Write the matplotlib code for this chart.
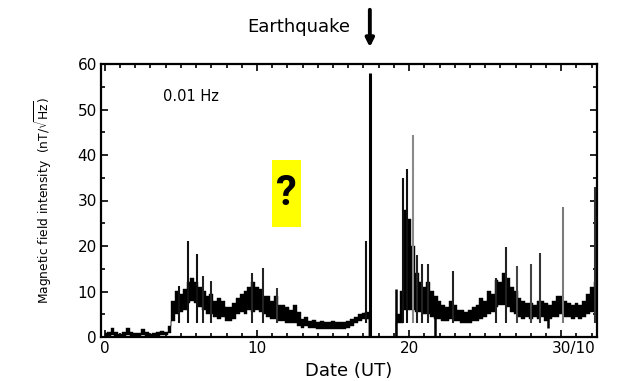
import numpy as np
import matplotlib
matplotlib.use("Agg")
import matplotlib.pyplot as plt
from matplotlib.patches import Rectangle
from matplotlib.transforms import ScaledTranslation

plt.rcParams['font.family'] = ['DejaVu Sans']

# ---- data ----
t_start, t_step = 0.0, 0.25
band_low = [0.2, 0.3, 0.4, 0.3, 0.2, 0.3, 0.5, 0.3, 0.2, 0.3, 0.4, 0.3, 0.2, 0.2, 0.3, 0.4,   # 0-3.75
            0.4, 0.8, 3.5, 5.0, 5.5, 6.0, 7.5, 8.0, 7.5, 6.5, 6.0, 5.0, 5.0, 4.5, 4.0, 4.5,   # 4-7.75
            3.5, 3.5, 4.0, 5.0, 5.5, 5.0, 6.0, 5.5, 6.0, 5.5, 5.0, 4.5, 4.0, 4.0, 3.5, 3.5,   # 8-11.75
            3.0, 3.0, 3.0, 2.5, 2.0, 2.5, 2.0, 2.0, 1.8, 1.8, 1.8, 1.8, 1.8, 1.8, 1.8, 1.8,   # 12-15.75
            2.0, 2.5, 3.0, 3.5, 4.0, 4.0, 0.0, 0.0, 0.0, 0.0, 0.0, 0.0, 0.0, 3.0, 3.0, 6.0,   # 16-19.75
            6.0, 6.0, 5.5, 5.5, 5.0, 5.0, 4.5, 4.0, 4.0, 3.5, 3.5, 4.0, 3.5, 3.5, 3.0, 3.0,   # 20-23.75
            3.0, 3.5, 3.5, 4.0, 4.5, 5.0, 5.5, 6.5, 7.0, 7.0, 6.5, 5.5, 5.0, 4.5, 4.0, 4.5,   # 24-27.75
            4.0, 4.5, 4.0, 4.5, 3.5, 4.0, 4.5, 4.5, 5.0, 4.5, 4.5, 4.0, 4.5, 4.0, 4.5, 5.0,   # 28-31.75
            5.5, 6.0]                                                                           # 32-32.25
band_high = [0.8, 1.0, 1.9, 1.0, 0.7, 1.0, 2.0, 1.1, 0.8, 0.9, 1.7, 1.0, 0.7, 0.8, 1.0, 1.3,
             1.0, 2.5, 8.0, 10.0, 9.5, 10.5, 12.0, 13.0, 12.0, 11.0, 10.0, 9.0, 9.5, 8.0, 8.5, 8.0,
             6.5, 6.5, 7.5, 8.5, 9.5, 10.0, 11.0, 12.0, 11.0, 10.5, 9.0, 9.0, 8.0, 9.0, 7.0, 7.0,
             6.5, 6.0, 7.0, 5.5, 4.0, 4.5, 3.5, 3.8, 3.2, 3.5, 3.3, 3.2, 3.5, 3.3, 3.2, 3.2,
             3.5, 4.0, 4.5, 5.0, 5.2, 5.5, 0.0, 0.0, 0.0, 0.0, 0.0, 0.0, 0.0, 5.0, 10.0, 28.0,
             26.0, 20.0, 14.0, 12.0, 11.0, 12.0, 10.0, 9.0, 8.0, 7.0, 6.5, 8.0, 7.0, 6.0, 6.0, 5.5,
             6.0, 6.5, 7.0, 8.5, 8.0, 10.0, 9.5, 12.5, 12.0, 14.0, 13.0, 11.0, 10.0, 8.5, 8.0, 7.5,
             7.5, 7.0, 8.0, 8.0, 7.5, 7.0, 8.0, 9.0, 9.0, 8.0, 7.5, 7.0, 7.5, 7.0, 8.0, 9.5,
             11.0, 12.0]

spike_days    = [4.9, 5.5, 6.05, 6.45, 7.0, 9.7, 10.4, 11.3, 17.2, 17.42, 19.62, 19.85, 20.27,
                 20.55, 20.85, 21.25, 22.9, 25.7, 26.4, 27.1, 28.0, 28.6, 30.1, 32.2]
spike_heights = [11.2, 21.0, 18.3, 13.5, 12.3, 14.0, 15.2, 10.8, 21.0, 58.0, 35.0, 37.0, 44.4,
                 18.0, 16.0, 16.0, 14.6, 13.0, 19.7, 15.7, 16.1, 18.5, 28.5, 33.0]
spike_shade   = ['#111111', '#111111', '#111111', '#222222', '#222222', '#222222', '#222222',
                 '#333333', '#111111', '#000000', '#111111', '#111111', '#8a8a8a', '#222222',
                 '#222222', '#222222', '#222222', '#222222', '#222222', '#444444', '#444444',
                 '#333333', '#7a7a7a', '#333333']

drop_days = [19.15, 21.7, 29.1]
drop_low  = [0.0, 0.0, 2.0]
drop_high = [10.5, 8.0, 7.0]

x_ticks = [0, 10, 20, 30]
x_ticklabels = ['0', '10', '20', '30/10']
y_ticks = [0, 10, 20, 30, 40, 50, 60]

# ---- figure ----
fig = plt.figure(figsize=(6.31, 3.81), dpi=100)
ax = fig.add_axes([101/631, 1 - 337/381, (597 - 101)/631, (337 - 64)/381])

days = t_start + t_step * np.arange(len(band_low))
ax.fill_between(days, band_low, band_high, step='mid', color='black', linewidth=0.3,
                edgecolor='black')
ax.vlines(spike_days, [0 if h > 50 else 3 for h in spike_heights], spike_heights,
          colors=spike_shade, linewidth=[2.2 if h > 50 else 1.5 for h in spike_heights])
ax.vlines(drop_days, drop_low, drop_high, colors='black', linewidth=1.8)

ax.set_xlim(-0.25, 32.35)
ax.set_ylim(0, 60)
ax.set_xticks(x_ticks)
ax.set_xticklabels(x_ticklabels)
ax.set_xticks(np.arange(1, 33), minor=True)
ax.set_yticks(y_ticks)
ax.set_yticks([5, 15, 25, 35, 45, 55], minor=True)
ax.tick_params(which='both', direction='in', top=True, right=True, labelsize=11, width=1.2)
ax.tick_params(which='major', length=5, pad=3)
ax.tick_params(which='minor', length=3)
for sp in ax.spines.values():
    sp.set_linewidth(1.6)

lab = ax.get_xticklabels()[-1]
lab.set_horizontalalignment('left')
lab.set_transform(lab.get_transform() + ScaledTranslation(-9/100, 0, fig.dpi_scale_trans))

ax.set_xlabel('Date (UT)', fontsize=13, labelpad=4)
ax.set_ylabel(r'Magnetic field intensity  (nT/$\sqrt{\mathrm{Hz}}$)', fontsize=8.8, labelpad=17)

ax.text(3.8, 52.8, '0.01 Hz', fontsize=10.5, ha='left', va='center')

ax.add_patch(Rectangle((11.0, 24.1), 1.9, 14.8, facecolor='#ffff00', edgecolor='none', zorder=3))
ax.text(11.95, 31.5, '?', fontsize=30, fontweight='bold', family='Roboto',
        ha='center', va='center', zorder=4)

fig.text(350/631, 1 - 27/381, 'Earthquake', fontsize=13, ha='right', va='center')
ax.annotate('', xy=(17.42, 1 - 50/381), xycoords=('data', 'figure fraction'),
            xytext=(17.42, 1 - 7/381), textcoords=('data', 'figure fraction'),
            arrowprops=dict(arrowstyle='-|>', lw=2.8, color='black', mutation_scale=12),
            annotation_clip=False)

fig.savefig('out.png', dpi=100)
